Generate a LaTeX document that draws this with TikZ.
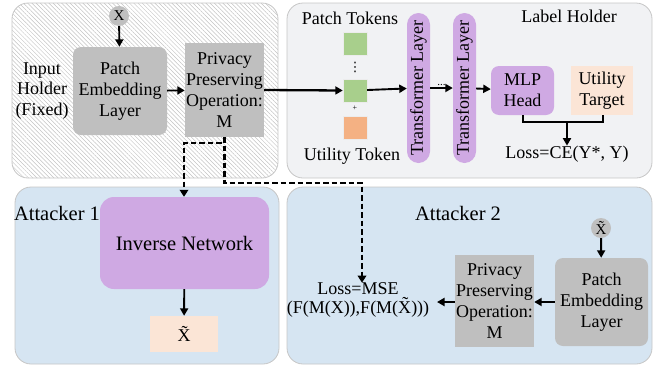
\documentclass[tikz,border=0pt]{standalone}
\usepackage{fontspec}
\setmainfont{Liberation Serif}
\newfontfamily\symfont{DejaVu Sans}
\usetikzlibrary{arrows.meta,patterns.meta}
\definecolor{boxgray}{HTML}{BFBFBF}
\definecolor{panelborder}{HTML}{C6C6C6}
\definecolor{panelgray}{HTML}{F1F2F4}
\definecolor{panelblue}{HTML}{D6E5F2}
\definecolor{purp}{HTML}{CFA9E3}
\definecolor{tokgreen}{HTML}{A8CF8C}
\definecolor{tokorange}{HTML}{F4B183}
\definecolor{lightorange}{HTML}{FBE5D6}
\definecolor{hatch}{HTML}{C4C4C4}
\begin{document}
\begin{tikzpicture}[x=1pt,y=-1pt,
  font=\fontsize{18}{20.7}\selectfont,
  panel/.style={draw=panelborder, line width=0.8pt, rounded corners=16pt, inner sep=0pt},
  graybox/.style={fill=boxgray, inner sep=0pt, align=center},
  purpbox/.style={fill=purp, inner sep=0pt, align=center},
  tok/.style={draw=white!85!gray, line width=0.4pt, minimum width=24pt, minimum height=23pt, inner sep=0pt},
  dot/.style={circle, fill=boxgray, minimum size=20pt, inner sep=0pt, font=\fontsize{15}{15}\selectfont},
  lbl/.style={inner sep=0pt, align=center},
  big/.style={font=\fontsize{20.5}{24}\selectfont},
  arr/.style={-{Triangle[length=7.5pt,width=8pt]}, line width=1.9pt},
  dashline/.style={line width=2.7pt, dash pattern=on 5.5pt off 3pt},
]
\useasboundingbox (0,0) rectangle (667,370);

% panels
\node[panel, preaction={fill=white}, pattern={Lines[angle=-45,distance=3pt,line width=0.5pt]}, pattern color=hatch,
      minimum width=266pt, minimum height=175pt] (p1) at (145,90.5) {};
\node[panel, fill=panelgray, minimum width=365pt, minimum height=175pt] (p2) at (469.5,90.5) {};
\node[panel, fill=panelblue, minimum width=264pt, minimum height=177pt] (p3) at (147,275.5) {};
\node[panel, fill=panelblue, minimum width=365pt, minimum height=177pt] (p4) at (469.5,275.5) {};

% input holder
\node[dot] (x1) at (119,16) {X};
\node[graybox, rounded corners=8pt, minimum width=94pt, minimum height=88pt] (pe1) at (120,91) {Patch\\Embedding\\Layer};
\node[lbl] (ih) at (42,91) {Input\\Holder\\(Fixed)};
\node[graybox, minimum width=79pt, minimum height=94pt] (ppo1) at (224.5,90) {Privacy\\Preserving\\Operation:\\M};

% label holder
\node[lbl] (pt) at (350,18) {Patch Tokens};
\node[tok, fill=tokgreen] (t1) at (355,43.5) {};
\node[lbl, font=\symfont\fontsize{13}{13}\selectfont] (vd) at (355,67) {⋮};
\node[tok, fill=tokgreen] (t2) at (355,90.5) {};
\node[lbl, font=\fontsize{8}{8}\selectfont] (plus) at (355,108.5) {+};
\node[tok, fill=tokorange] (t3) at (355,128) {};
\node[lbl] (utk) at (352,156) {Utility Token};
\node[purpbox, rounded corners=11.5pt, rotate=90, minimum width=150pt, minimum height=23pt] (tl1) at (418.5,88) {Transformer Layer};
\node[purpbox, rounded corners=11.5pt, rotate=90, minimum width=150pt, minimum height=23pt] (tl2) at (464.5,88) {Transformer Layer};
\node[purpbox, rounded corners=8pt, minimum width=63pt, minimum height=49pt] (mlp) at (522.5,90.5) {MLP\\Head};
\node[lbl, fill=lightorange, minimum width=62pt, minimum height=49pt] (ut) at (602,90.5) {Utility\\Target};
\node[lbl] (lh) at (569,16) {Label Holder};
\node[lbl] (ce) at (567,154) {Loss=CE(Y*, Y)};
\coordinate (j1) at (523,122);
\coordinate (j2) at (603,122);
\coordinate (jm) at (567,122);

\draw[arr] (x1) -- (pe1);
\draw[arr] (pe1) -- (ppo1);
\draw[arr, line width=2.3pt] (ppo1.east) -- (t2.west);
\draw[arr] (t2) -- (tl1);
\draw[arr] (tl1) -- node[lbl, above=1pt, font=\fontsize{11}{11}\selectfont] (ell) {...} (tl2);
\draw[arr] (tl2) -- (mlp);
\draw[line width=1.9pt] (mlp.south -| j1) -- (j1) -- (j2) -- (ut.south -| j2);
\draw[arr] (jm) -- (ce.north);

% attacker 1
\node[lbl, big] (a1) at (57,213) {Attacker 1};
\node[purpbox, big, rounded corners=14pt, minimum width=169pt, minimum height=92pt] (inv) at (184.5,243) {Inverse Network};
\node[lbl, fill=lightorange, minimum width=68pt, minimum height=36pt] (xt) at (184,334) {\~{X}};
\draw[arr] (inv) -- (xt);

% attacker 2
\node[lbl, big] (a2) at (458,213) {Attacker 2};
\node[dot] (xt2) at (601,228) {\~{X}};
\node[graybox, rounded corners=8pt, minimum width=93pt, minimum height=88pt] (pe2) at (601.5,302) {Patch\\Embedding\\Layer};
\node[graybox, minimum width=79pt, minimum height=92pt] (ppo2) at (494.5,301) {Privacy\\Preserving\\Operation:\\M};
\node[lbl, font=\fontsize{18}{18.5}\selectfont] (mse) at (358,300) {Loss=MSE\\(F(M(X)),F(M(\~{X})))};
\coordinate (msein) at (437,302);
\draw[arr] (xt2) -- (pe2);
\draw[arr] (pe2.west |- 0,302) -- (ppo2.east |- 0,302);
\draw[arr] (ppo2.west |- msein) -- (msein);

% dashed leaks
\coordinate (d1) at (224.5,143);
\coordinate (d2) at (184,143);
\coordinate (d3) at (224.5,183);
\coordinate (d4) at (362,183);
\draw[dashline, -{Triangle[length=7pt,width=8.5pt]}] (ppo1.south) -- (d1) -- (d2) -- (inv.north -| d2);
\draw[dashline, -{Triangle[length=7pt,width=8.5pt]}] (ppo1.south) -- (d3) -- (d4) -- (mse.north -| d4);
\end{tikzpicture}
\end{document}
